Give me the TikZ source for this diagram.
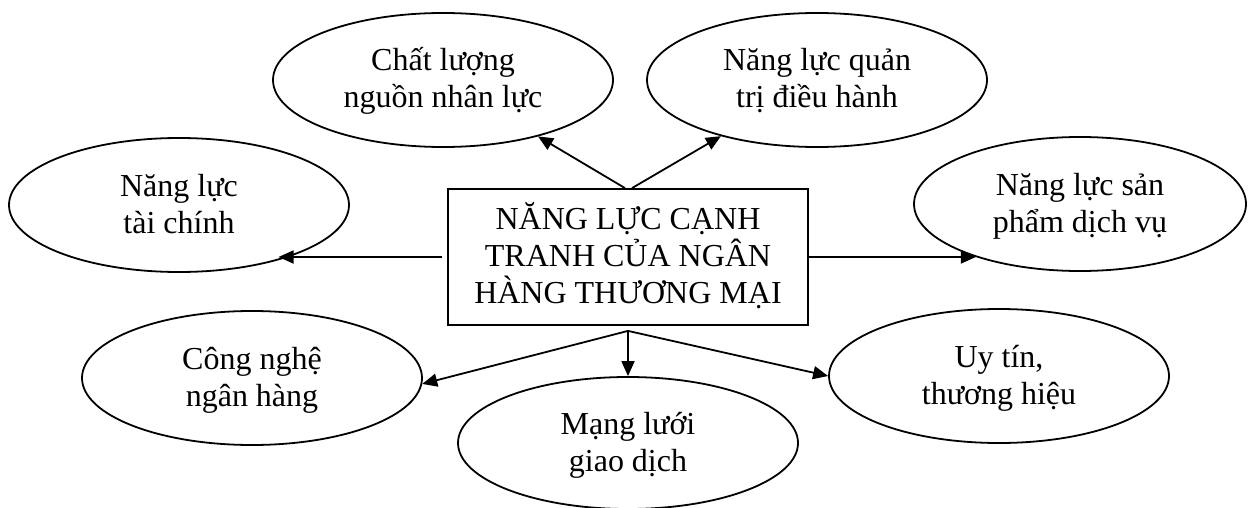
\documentclass[tikz,border=0pt]{standalone}
\usepackage{fontspec}
\setmainfont{Liberation Serif}
\usetikzlibrary{shapes.geometric,arrows.meta,calc}
\newcommand{\mystrut}{\rule[-9pt]{0pt}{37pt}}
\begin{document}
\begin{tikzpicture}[x=1pt,y=-1pt,
  every node/.style={font=\fontsize{32}{37}\selectfont, align=center},
  oval/.style={draw, line width=1.8pt, ellipse, minimum width=340pt, minimum height=134pt, inner sep=0pt},
  mainbox/.style={draw, line width=1.8pt, rectangle, minimum width=360pt, minimum height=136pt, inner sep=0pt},
  conn/.style={line width=1.8pt, -{Triangle[length=15pt,width=13pt]}}]
\useasboundingbox[fill=white] (0,0) rectangle (1249,508);
\node[mainbox] (box) at (628,257) {\mystrut NĂNG LỰC CẠNH\\\mystrut TRANH CỦA NGÂN\\\mystrut HÀNG THƯƠNG MẠI};
\node[oval] (e1) at (443,80) {\mystrut Chất lượng\\\mystrut nguồn nhân lực};
\node[oval] (e2) at (817,80) {\mystrut Năng lực quản\\\mystrut trị điều hành};
\node[oval] (e3) at (179,205) {\mystrut Năng lực\\\mystrut tài chính};
\node[oval, minimum width=332pt] (e4) at (1080,204) {\mystrut Năng lực sản\\\mystrut phẩm dịch vụ};
\node[oval] (e5) at (252,378) {\mystrut Công nghệ\\\mystrut ngân hàng};
\node[oval, minimum height=132pt] (e6) at (628,443) {\mystrut Mạng lưới\\\mystrut giao dịch};
\node[oval] (e7) at (999,376) {\mystrut Uy tín,\\\mystrut thương hiệu};
\coordinate (bot) at ([yshift=-5pt]box.south);
\draw[conn] ([xshift=-3pt]box.north) -- (e1);
\draw[conn] ([xshift=4pt]box.north) -- (e2);
\draw[conn] ([xshift=-5pt]box.west) -- (box.west -| e3.-29);
\draw[conn] (box.east) -- (box.east -| e4.207);
\draw[conn] (bot) -- (e5.-2);
\draw[conn] (bot) -- (e6.north);
\draw[conn] (bot) -- (e7.west);
\end{tikzpicture}
\end{document}
